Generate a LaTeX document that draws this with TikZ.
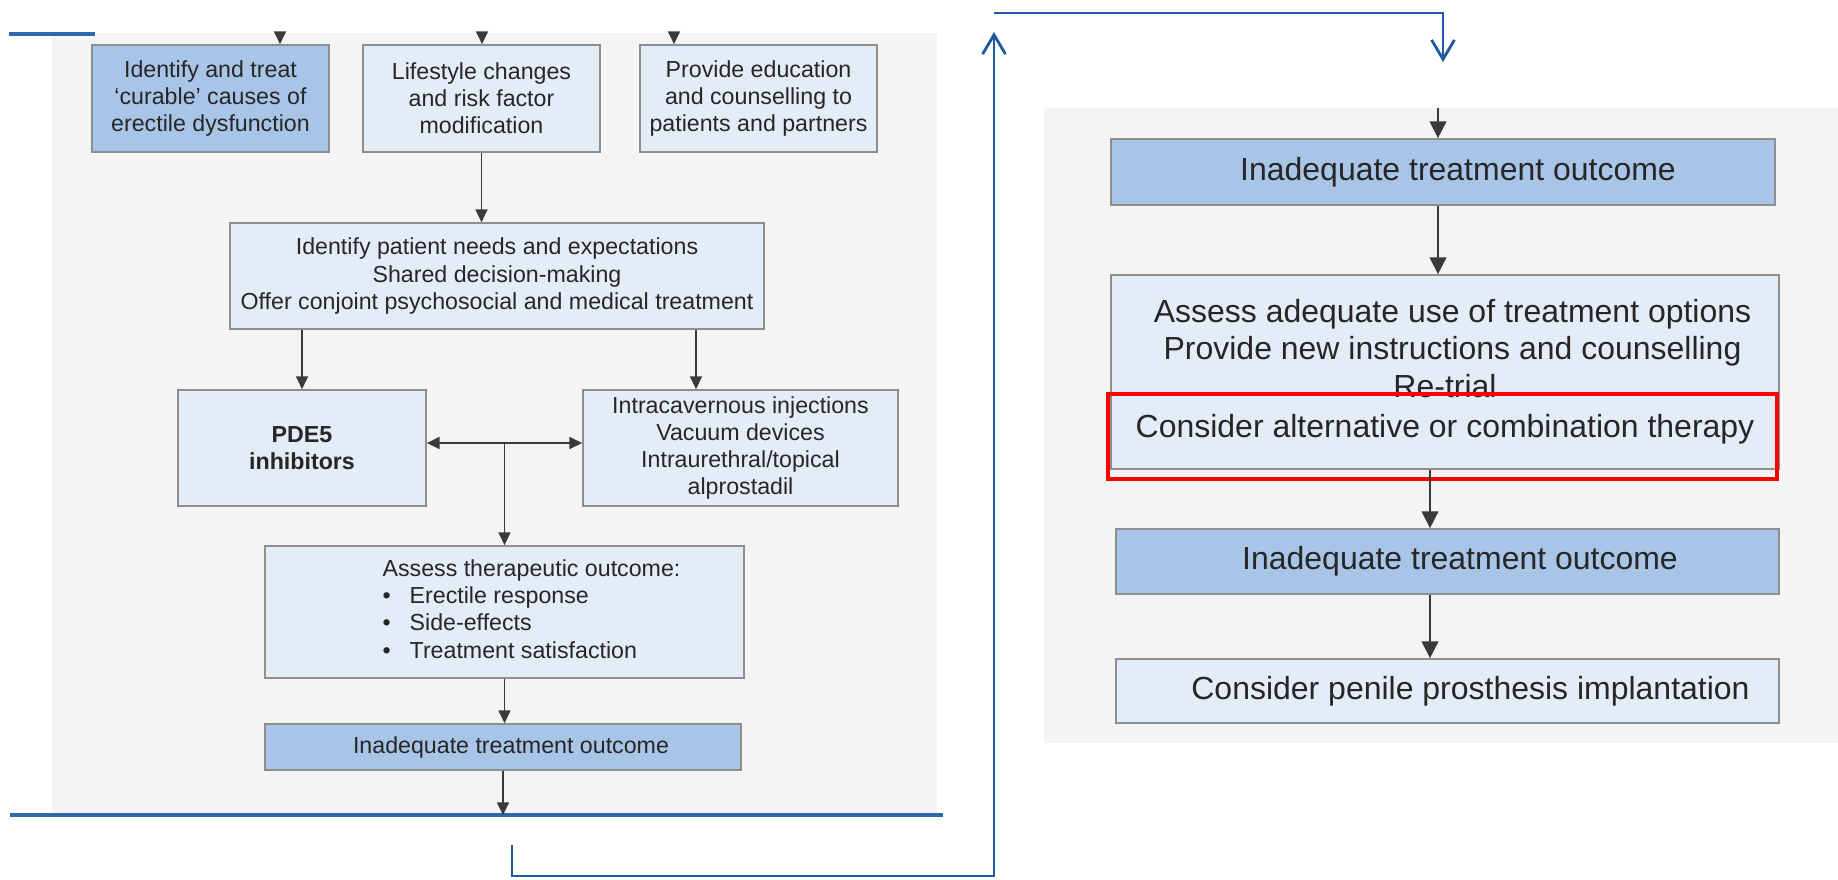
\documentclass[tikz,border=0pt]{standalone}
\usepackage{fontspec}
\setmainfont{Liberation Sans}
\usetikzlibrary{arrows.meta,calc,positioning}

\definecolor{panelgray}{HTML}{F4F4F4}
\definecolor{boxlight}{HTML}{E4ECF8}
\definecolor{boxdark}{HTML}{A8C5E8}
\definecolor{boxline}{HTML}{8E8E8E}
\definecolor{flowgray}{HTML}{3A3A3A}
\definecolor{backblue}{HTML}{1D5A9F}
\definecolor{ruleblue}{HTML}{2E69AD}

\begin{document}
\begin{tikzpicture}[x=0.1mm,y=-0.1mm,
        lbox/.style={draw=boxline,line width=0.5pt,fill=boxlight,inner sep=0pt,align=center,text=black!85,font=\fontsize{6.6}{7.7}\selectfont},
        ldark/.style={lbox,fill=boxdark},
        rbox/.style={lbox,font=\fontsize{9.1}{10.6}\selectfont},
        rdark/.style={rbox,fill=boxdark},
        flow/.style={draw=flowgray,line width=0.45pt,-{Triangle[width=3.4pt,length=3.6pt]}},
        rflow/.style={flow,-{Triangle[width=4.8pt,length=4.8pt]}},
        backline/.style={draw=backblue,line width=0.8pt,-{Straight Barb[width=6.5pt,length=5.5pt]}}]
                \useasboundingbox (0,0) rectangle (1838,879);
                \fill[panelgray] (52,33) rectangle (937,815);
                \fill[panelgray] (1044,108) rectangle (1838,743);
                \draw[ruleblue,line width=0.9pt] (9,34) -- (95,34);
                \draw[ruleblue,line width=1.1pt] (10,815) -- (943,815);

                \node[ldark,minimum width=23.7mm,minimum height=10.7mm] (curable) at (210.5,98.5) {Identify and treat\\`curable' causes of\\erectile dysfunction};
                \node[lbox,minimum width=23.7mm,minimum height=10.7mm] (lifestyle) at (481.5,98.5) {Lifestyle changes\\and risk factor\\modification};
                \node[lbox,minimum width=23.7mm,minimum height=10.7mm] (educate) at (758.5,98.5) {Provide education\\and counselling to\\patients and partners};
                \node[lbox,minimum width=53.4mm,minimum height=10.6mm] (needs) at (497,276) {Identify patient needs and expectations\\Shared decision-making\\Offer conjoint psychosocial and medical treatment};
                \node[lbox,minimum width=24.8mm,minimum height=11.6mm,font=\fontsize{6.6}{7.7}\selectfont\bfseries] (pde) at (302,448) {PDE5\\inhibitors};
                \node[lbox,minimum width=31.5mm,minimum height=11.6mm] (injections) at (740.5,448) {Intracavernous injections\\Vacuum devices\\Intraurethral/topical\\alprostadil};
                \node[lbox,minimum width=47.9mm,minimum height=13.2mm] (assess) at (504.5,612) {\hspace{5.4mm}\begin{tabular}[t]{@{}l@{\hspace{1.9mm}}l@{}}\multicolumn{2}{@{}l@{}}{Assess therapeutic outcome:}\\ \textbullet & Erectile response\\ \textbullet & Side-effects\\ \textbullet & Treatment satisfaction\end{tabular}};
                \node[ldark,minimum width=47.6mm,minimum height=4.6mm] (inadequateA) at (503,747) {\hspace{1.6mm}Inadequate treatment outcome};

                \node[rdark,minimum width=66.4mm,minimum height=6.6mm] (inadequateB) at (1443,172) {\hspace{3mm}Inadequate treatment outcome};
                \node[rbox,minimum width=66.8mm,minimum height=19.4mm] (reassess) at (1445,372) {\hspace{1.5mm}Assess adequate use of treatment options\\\hspace{1.5mm}Provide new instructions and counselling\\Re-trial\\[1pt]Consider alternative or combination therapy};
                \node[rdark,minimum width=66.3mm,minimum height=6.5mm] (inadequateC) at (1447.5,561.5) {\hspace{2.5mm}Inadequate treatment outcome};
                \node[rbox,minimum width=66.3mm,minimum height=6.4mm] (prosthesis) at (1447.5,691) {\hspace{4.6mm}Consider penile prosthesis implantation};
                \draw[red,line width=1.4pt] (1108,394) rectangle (1777,479);

                \foreach \x/\b in {280/curable,482/lifestyle,674/educate}{
                    \coordinate (in\b) at (\x,33);
                    \draw[flow] (in\b) -- (in\b |- \b.north);
                }
                \draw[flow] (lifestyle.south) -- (lifestyle.south |- needs.north);
                \draw[flow] (needs.south -| pde.north) -- (pde.north);
                \coordinate (injtop) at ($(injections.north)+(-44.5,0)$);
                \draw[flow] (needs.south -| injtop) -- (injtop);
                \coordinate (split) at ($(pde.east)+(0,-5)$);
                \draw[flow,{Triangle[width=3.4pt,length=3.6pt]}-{Triangle[width=3.4pt,length=3.6pt]}] (split) -- (split -| injections.west);
                \draw[flow] (split -| assess.north) -- (assess.north);
                \draw[flow] (assess.south) -- (assess.south |- inadequateA.north);
                \coordinate (downA) at (503,815);
                \draw[flow] (inadequateA.south) -- (downA);

                \coordinate (inB) at (1438,108);
                \draw[rflow] (inB) -- (inB |- inadequateB.north);
                \draw[rflow] (inadequateB.south -| inB) -- (inB |- reassess.north);
                \coordinate (colC) at (1430,479);
                \draw[rflow] (reassess.south -| colC) -- (colC |- inadequateC.north);
                \draw[rflow] (inadequateC.south -| colC) -- (colC |- prosthesis.north);

                \coordinate (backA) at (512,845);
                \coordinate (backB) at (994,876);
                \coordinate (backC) at (994,32);
                \draw[backline] (backA) |- (backB) -- (backC);
                \coordinate (backD) at (994,13);
                \coordinate (backE) at (1443,62);
                \draw[backline] (backD) -| (backE);
\end{tikzpicture}
\end{document}
